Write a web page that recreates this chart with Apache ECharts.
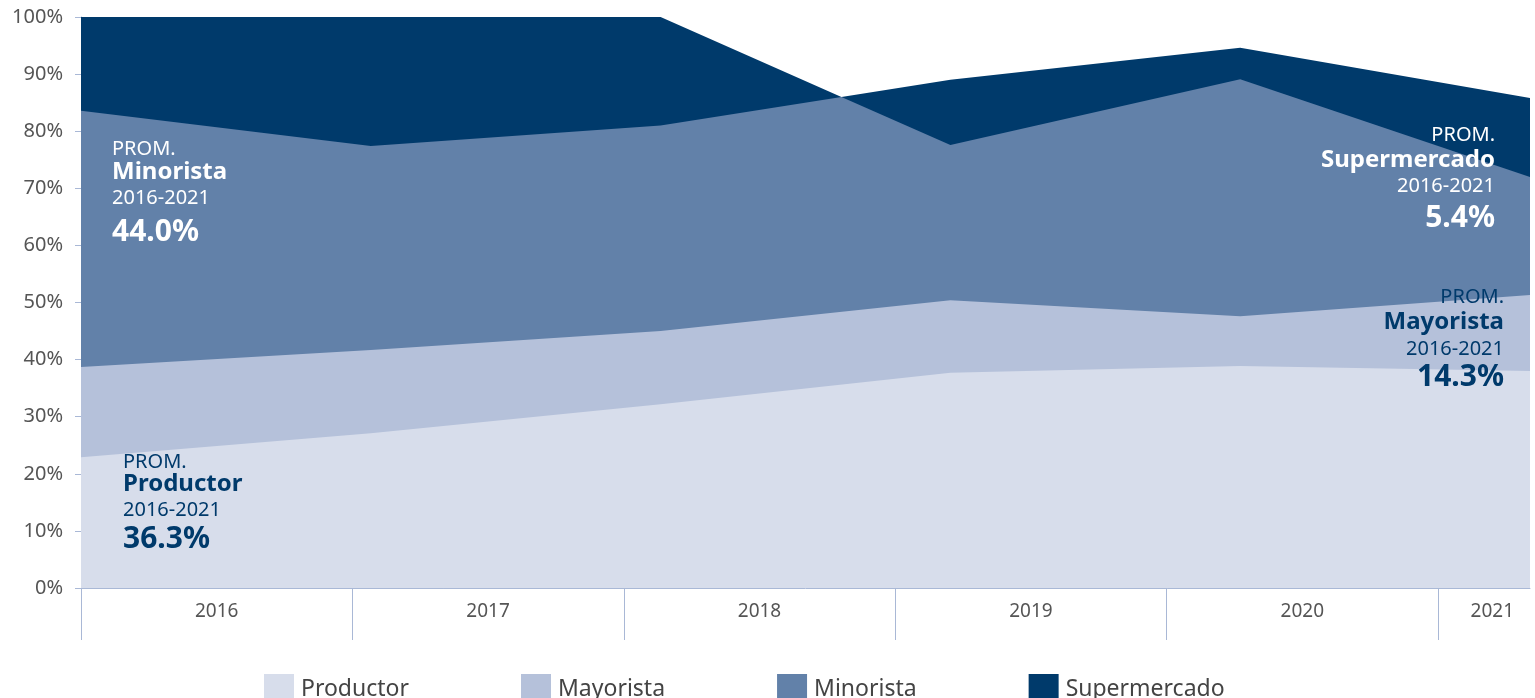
<!DOCTYPE html>
<html>
<head>
<meta charset="utf-8">
<title>Canal de venta 2016-2021</title>
<script src="https://cdn.jsdelivr.net/npm/echarts@6/dist/echarts.min.js"></script>
<style>
  html, body { margin: 0; padding: 0; background: #ffffff; }
  #chart { width: 1535px; height: 698px; }
</style>
</head>
<body>
<div id="chart"></div>
<script>
  // anios en el eje (bandas)
  const years = ['2016', '2017', '2018', '2019', '2020', '2021'];
  const yearLabelPos = [0.5, 1.5, 2.5, 3.5, 4.5, 5.2];
  const yearTickPos = [0, 1, 2, 3, 4, 5];

  // bordes superiores acumulados de cada area, [posicion, %]
  const productorTop = [[0, 22.9], [1, 27.1], [2, 32.2], [3, 37.7], [4, 38.9], [5, 38.0]];
  const mayoristaTop = [[0, 38.7], [1, 41.7], [2, 45.0], [3, 50.4], [4, 47.6], [5, 51.3]];
  const minoristaTop = [[0, 83.6], [1, 77.4], [2, 81.0], [2.624, 86.0], [3, 77.6], [4, 89.1], [5, 72.0]];
  const supermercadoTop = [[0, 100], [1, 100], [2, 100], [2.624, 86.0], [3, 89.0], [4, 94.6], [5, 85.8]];

  const seriesNames = ['Productor', 'Mayorista', 'Minorista', 'Supermercado'];
  const colors = {
    Productor: '#d7ddeb',
    Mayorista: '#b5c1da',
    Minorista: '#6281a9',
    Supermercado: '#003a6b'
  };

  // promedios 2016-2021
  const averages = { Productor: '36.3%', Mayorista: '14.3%', Minorista: '44.0%', Supermercado: '5.4%' };

  const FONT = '"Noto Sans", "DejaVu Sans", sans-serif';
  const AXIS_COLOR = '#a9b8d6';

  function note(name, x, ys, align, color, sizes) {
    const lines = ['PROM.', name, '2016-2021', averages[name]];
    const weights = ['normal', 'bold', 'normal', 'bold'];
    return lines.map((t, i) => ({
      type: 'text',
      silent: true,
      z: 100,
      style: {
        text: t,
        x: x,
        y: ys[i],
        fill: color,
        font: weights[i] + ' ' + sizes[i] + 'px ' + FONT,
        textAlign: align,
        align: align,
        textVerticalAlign: 'middle',
        verticalAlign: 'middle'
      }
    }));
  }

  function areaSeries(name, data) {
    return {
      name: name,
      type: 'line',
      xAxisIndex: 0,
      data: data,
      symbol: 'none',
      smooth: false,
      lineStyle: { width: 0 },
      itemStyle: { color: colors[name] },
      areaStyle: { color: colors[name], opacity: 1 },
      emphasis: { disabled: true }
    };
  }

  const myChart = echarts.init(document.getElementById('chart'));
  const option = {
    animation: false,
    textStyle: { fontFamily: FONT },
    grid: {
      left: 81,
      right: 5,
      top: 17,
      bottom: 110
    },
    legend: {
      data: seriesNames,
      bottom: -11,
      left: 259,
      icon: 'rect',
      itemWidth: 30,
      itemHeight: 30,
      itemGap: 112,
      selectedMode: false,
      textStyle: { color: '#444444', fontSize: 23, fontFamily: FONT, padding: [0, 0, 0, 2] }
    },
    xAxis: [
      {
        type: 'value',
        min: 0,
        max: 5,
        show: false
      },
      {
        type: 'value',
        min: 0,
        max: 5.339,
        position: 'bottom',
        axisLine: { show: true, lineStyle: { color: AXIS_COLOR, width: 1 } },
        axisTick: {
          show: true,
          length: 52,
          customValues: yearTickPos,
          lineStyle: { color: AXIS_COLOR, width: 1 }
        },
        axisLabel: {
          show: true,
          customValues: yearLabelPos,
          margin: 14,
          color: '#555555',
          fontSize: 19,
          fontFamily: FONT,
          formatter: function (v) {
            const i = yearLabelPos.findIndex(p => Math.abs(p - v) < 1e-6);
            return i >= 0 ? years[i] : '';
          }
        },
        splitLine: { show: false }
      }
    ],
    yAxis: {
      type: 'value',
      min: 0,
      max: 100,
      interval: 10,
      axisLine: { show: true, lineStyle: { color: AXIS_COLOR, width: 1 } },
      axisTick: { show: true, length: 6, lineStyle: { color: AXIS_COLOR } },
      axisLabel: {
        formatter: '{value}%',
        color: '#555555',
        fontSize: 20,
        fontFamily: FONT,
        margin: 18
      },
      splitLine: { show: false }
    },
    series: [
      areaSeries('Supermercado', supermercadoTop),
      areaSeries('Minorista', minoristaTop),
      areaSeries('Mayorista', mayoristaTop),
      areaSeries('Productor', productorTop)
    ],
    graphic: [].concat(
      note('Minorista', 112, [149, 172, 198, 232], 'left', '#ffffff', [20, 24, 20, 30]),
      note('Productor', 123, [462, 484, 510, 539], 'left', '#003a6b', [20, 24, 20, 30]),
      note('Supermercado', 1495, [135, 160, 186, 218], 'right', '#ffffff', [20, 24, 20, 30]),
      note('Mayorista', 1504, [297, 322, 349, 377], 'right', '#003a6b', [20, 24, 20, 30])
    )
  };
  option && myChart.setOption(option);
</script>
</body>
</html>
